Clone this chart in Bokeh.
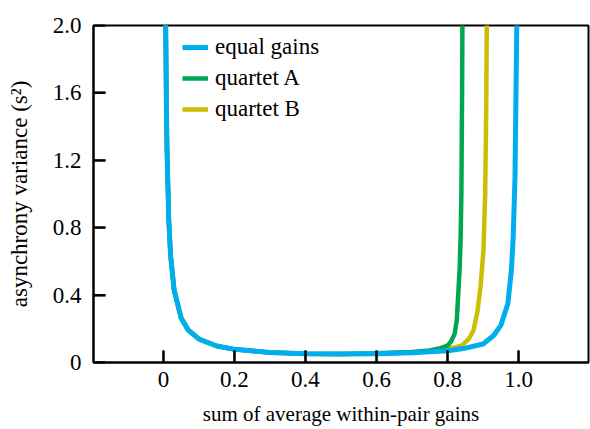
import math
from bokeh.plotting import figure
from bokeh.models import Range1d, Legend, LegendItem, FixedTicker
from bokeh.embed import file_html
from bokeh.resources import INLINE

# equal gains
eq_x = [0.005, 0.006, 0.008, 0.01, 0.015, 0.02, 0.03, 0.05, 0.07, 0.1, 0.15, 0.2, 0.3, 0.4, 0.5,
        0.6, 0.7, 0.8, 0.85, 0.9, 0.93, 0.95, 0.97, 0.98, 0.985, 0.99, 0.995, 0.998]
eq_y = [2.51, 2.10, 1.575, 1.263, 0.846, 0.638, 0.430, 0.263, 0.192, 0.139, 0.098, 0.078, 0.060, 0.052, 0.050,
        0.052, 0.058, 0.07, 0.085, 0.11, 0.16, 0.22, 0.35, 0.55, 0.75, 1.1, 2.0, 2.5]

# quartet A
qa_x = [0.005, 0.006, 0.008, 0.01, 0.015, 0.02, 0.03, 0.05, 0.07, 0.1, 0.15, 0.2, 0.3, 0.4, 0.5,
        0.6, 0.7, 0.75, 0.78, 0.8, 0.81, 0.82, 0.826, 0.83, 0.834, 0.837, 0.839, 0.841, 0.843]
qa_y = [2.51, 2.10, 1.575, 1.263, 0.846, 0.638, 0.430, 0.263, 0.192, 0.139, 0.098, 0.078, 0.060, 0.052, 0.051,
        0.055, 0.063, 0.072, 0.085, 0.10, 0.125, 0.17, 0.25, 0.40, 0.55, 0.75, 1.0, 1.6, 2.5]

# quartet B
qb_x = [0.005, 0.006, 0.008, 0.01, 0.015, 0.02, 0.03, 0.05, 0.07, 0.1, 0.15, 0.2, 0.3, 0.4, 0.5,
        0.6, 0.7, 0.8, 0.84, 0.86, 0.873, 0.884, 0.893, 0.901, 0.906, 0.909, 0.912]
qb_y = [2.51, 2.10, 1.575, 1.263, 0.846, 0.638, 0.430, 0.263, 0.192, 0.139, 0.098, 0.078, 0.060, 0.052, 0.050,
        0.053, 0.060, 0.08, 0.10, 0.14, 0.19, 0.30, 0.45, 0.66, 1.0, 1.5, 2.5]

x_ticks = [0, 0.2, 0.4, 0.6, 0.8, 1.0]
x_labels = ["0", "0.2", "0.4", "0.6", "0.8", "1.0"]
y_ticks = [0, 0.4, 0.8, 1.2, 1.6, 2.0]
y_labels = ["0", "0.4", "0.8", "1.2", "1.6", "2.0"]

series_names = ["equal gains", "quartet A", "quartet B"]
colors = ["#00AEEF", "#00A651", "#CCBE00"]

X_START, X_END = -0.197, 1.197
Y_START, Y_END = 0.0, 2.0

W, H = 590, 429
BL, BR, BT, BB = 93, 2, 25, 67
TICK_PX = 12

FONT = "Liberation Serif"

p = figure(width=W, height=H, output_backend="svg", toolbar_location=None,
           x_range=Range1d(X_START, X_END), y_range=Range1d(Y_START, Y_END),
           min_border_left=BL, min_border_top=BT, min_border_bottom=BB, min_border_right=BR)

p.xgrid.visible = False
p.ygrid.visible = False
p.outline_line_color = "black"
p.outline_line_width = 2
p.outline_line_alpha = 1.0

rb = p.line(qb_x, qb_y, line_color=colors[2], line_width=4.5)
ra = p.line(qa_x, qa_y, line_color=colors[1], line_width=4.5)
re = p.line(eq_x, eq_y, line_color=colors[0], line_width=5)

# inward tick marks as short rays (screen-unit length)
p.ray(x=x_ticks, y=[Y_START] * len(x_ticks), length=TICK_PX, length_units="screen",
      angle=math.pi / 2, line_color="#111111", line_width=2.2)
p.ray(x=[X_START] * len(y_ticks), y=y_ticks, length=TICK_PX, length_units="screen",
      angle=0, line_color="#111111", line_width=2.2)

for ax in (p.xaxis[0], p.yaxis[0]):
    ax.axis_line_width = 2
    ax.axis_line_color = "black"
    ax.major_tick_line_color = "black"
    ax.major_tick_line_width = 2
    ax.major_tick_in = TICK_PX
    ax.major_tick_out = 0
    ax.minor_tick_line_color = None
    ax.major_label_text_font = FONT
    ax.major_label_text_font_size = "23px"
    ax.major_label_text_color = "black"
    ax.axis_label_text_font = FONT
    ax.axis_label_text_font_style = "normal"
    ax.axis_label_text_color = "black"

p.xaxis.axis_label_text_font_size = "21px"
p.yaxis.axis_label_text_font_size = "23px"
p.xaxis.ticker = FixedTicker(ticks=x_ticks)
p.xaxis.major_label_overrides = dict(zip(x_ticks, x_labels))
p.yaxis.ticker = FixedTicker(ticks=y_ticks)
p.yaxis.major_label_overrides = dict(zip(y_ticks, y_labels))
p.xaxis.axis_label = "sum of average within-pair gains"
p.yaxis.axis_label = "asynchrony variance (s²)"
p.xaxis.major_label_standoff = 9
p.xaxis.axis_label_standoff = 12
p.yaxis.major_label_standoff = 12
p.yaxis.axis_label_standoff = 18

legend = Legend(items=[LegendItem(label=series_names[0], renderers=[re]),
                       LegendItem(label=series_names[1], renderers=[ra]),
                       LegendItem(label=series_names[2], renderers=[rb])],
                location=(89, 240))
legend.background_fill_alpha = 0
legend.border_line_color = None
legend.label_text_font = FONT
legend.label_text_font_size = "23px"
legend.label_text_color = "black"
legend.glyph_width = 26
legend.glyph_height = 20
legend.label_height = 20
legend.spacing = 5
legend.padding = 0
legend.margin = 0
legend.label_standoff = 7
p.add_layout(legend)

open("out.html", "w").write(file_html(p, INLINE))
